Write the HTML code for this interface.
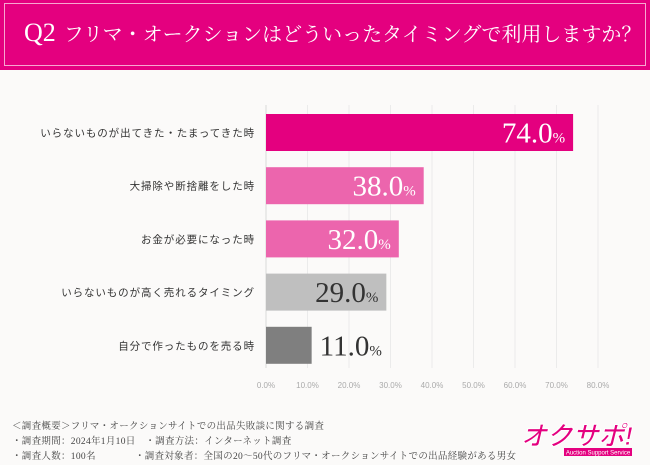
<!DOCTYPE html>
<html><head><meta charset="utf-8"><style>
body{margin:0;width:650px;height:465px;background:#fbfaf9;overflow:hidden;font-family:"Liberation Sans","Noto Sans CJK JP",sans-serif;position:relative}
#hdr{position:absolute;left:0;top:0;width:650px;height:70px;background:#e4007f}
#hdr .b{position:absolute;left:4px;top:3px;width:640px;height:61px;border:1px solid #f7a6d0}
#title{position:absolute;left:24px;top:18px;color:#fff;font-family:"Liberation Serif","Noto Serif CJK SC",serif;font-size:20px;white-space:nowrap}
#title span{font-size:26px;margin-right:8px}
.note{position:absolute;left:12px;font-size:9.5px;color:#444;font-family:"Liberation Serif","Noto Serif CJK SC",serif;white-space:pre;letter-spacing:0.3px}
#logo{position:absolute;left:520px;top:418px;width:115px;height:40px}
</style></head><body>
<div id="hdr"><div class="b"></div>
<div id="title"><span>Q2</span>フリマ・オークションはどういったタイミングで利用しますか？</div></div>
<svg id="chart" width="650" height="400" style="position:absolute;left:0;top:0"></svg>
<div class="note" style="top:418px">＜調査概要＞フリマ・オークションサイトでの出品失敗談に関する調査</div>
<div class="note" style="top:433px">・調査期間：2024年1月10日　・調査方法：インターネット調査</div>
<div class="note" style="top:448px">・調査人数：100名　　　　・調査対象者：全国の20～50代のフリマ・オークションサイトでの出品経験がある男女</div>
<svg id="logo" viewBox="0 0 115 40">
<text x="57" y="27" text-anchor="middle" font-family="Liberation Sans,Noto Sans CJK JP,sans-serif" font-weight="bold" font-style="italic" font-size="26" fill="#e4007f" stroke="#fff" stroke-width="1">オクサポ!</text>
<rect x="44" y="30" width="68" height="8" fill="#e4007f"/>
<text x="78" y="36.5" text-anchor="middle" font-size="6" fill="#fff" font-family="Liberation Sans,sans-serif">Auction Support Service</text></svg>
<script>
const categories=["いらないものが出てきた・たまってきた時","大掃除や断捨離をした時","お金が必要になった時","いらないものが高く売れるタイミング","自分で作ったものを売る時"];
const values=[74.0,38.0,32.0,29.0,11.0];
const colors=["#e4007f","#ec65ad","#ec65ad","#bfbfbf","#7f7f7f"];
const labelColors=["#fff","#fff","#fff","#333","#333"];
const ticks=[0,10,20,30,40,50,60,70,80];
const svg=document.getElementById('chart');
const NS="http://www.w3.org/2000/svg";
const x0=266,x1=598,max=80;
const xs=v=>x0+(x1-x0)*v/max;
const yTop=i=>114+i*53.2,bh=37;
function mk(t,a){const e=document.createElementNS(NS,t);for(const k in a)e.setAttribute(k,a[k]);svg.appendChild(e);return e;}
ticks.forEach(t=>{
 const g=mk('line',{x1:xs(t),x2:xs(t),y1:105,y2:368,stroke:t?'#ebebeb':'#d9d9d9','stroke-width':1});
 
 
 const l=mk('text',{x:xs(t),y:388,'text-anchor':'middle','font-size':8,fill:'#aaa','font-family':'Liberation Sans,sans-serif'});
 l.textContent=t.toFixed(1)+'%';
 
 
});
values.forEach((v,i)=>{
 const y=yTop(i);
 const r=mk('rect',{x:x0,y:y,width:xs(v)-x0,height:bh,fill:colors[i]});
 
 
 const c=mk('text',{x:255,y:y+bh/2+4,'text-anchor':'end','font-size':10.5,'letter-spacing':0.9,fill:'#333','font-family':'Liberation Sans,Noto Sans CJK JP,sans-serif'});
 c.textContent=categories[i];
 
 
 const inside=(xs(v)-x0)>90;
 const t=mk('text',{x:inside?xs(v)-8:xs(v)+8,y:y+bh/2+10,'text-anchor':inside?'end':'start',fill:labelColors[i],'font-family':'Liberation Serif,serif','font-size':29});
 t.innerHTML=v.toFixed(1)+'<tspan font-size="15">%</tspan>';
 
 
});
</script>
</body></html>
